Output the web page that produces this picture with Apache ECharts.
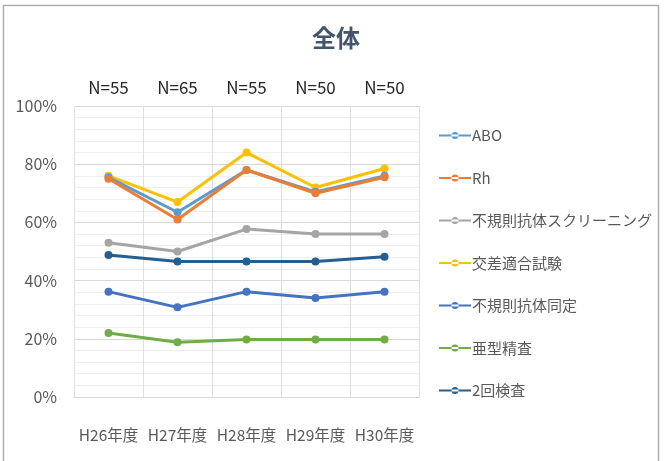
<!DOCTYPE html>
<html><head><meta charset="utf-8">
<script src="https://cdn.jsdelivr.net/npm/echarts@6/dist/echarts.min.js"></script>
<style>html,body{margin:0;padding:0;background:#fff}#c{width:665px;height:461px}</style>
</head><body><div id="c"></div>
<script>
const categories = ['H26年度','H27年度','H28年度','H29年度','H30年度'];
const nLabels = ['N=55','N=65','N=55','N=50','N=50'];
const seriesNames = ['ABO','Rh','不規則抗体スクリーニング','交差適合試験','不規則抗体同定','亜型精査','2回検査'];
const abo = [75.5, 63.5, 78, 70.5, 76];
const rh = [75, 61, 78, 70, 75.5];
const screening = [53, 50, 57.7, 56, 56];
const crossmatch = [76, 67, 84, 72, 78.5];
const identification = [36.2, 30.8, 36.2, 34, 36.2];
const subtype = [22, 18.8, 19.8, 19.8, 19.8];
const twice = [48.8, 46.6, 46.6, 46.6, 48.2];
const yTicks = [0, 20, 40, 60, 80, 100];
const colors = ['#5B9BD5','#ED7D31','#A5A5A5','#FFC000','#4472C4','#70AD47','#255E91'];
const allData = [abo, rh, screening, crossmatch, identification, subtype, twice];
const font = '"Noto Sans CJK JP", "Noto Sans", sans-serif';

const chart = echarts.init(document.getElementById('c'));
chart.setOption({
  animation: false,
  title: { text: '全体', left: 331, top: 21, textAlign: 'center',
    textStyle: { fontSize: 24, fontWeight: 'bold', color: '#44546A', fontFamily: font } },
  graphic: [{ type: 'rect', shape: { x: 3.5, y: 5.5, width: 655, height: 470 },
    style: { fill: 'none', stroke: '#b0b0b0', lineWidth: 1.5 }, silent: true }],
  legend: {
    orient: 'vertical', left: 434, top: 123, itemGap: 27.5,
    itemWidth: 32, itemHeight: 8,
    textStyle: { fontSize: 15, color: '#595959', fontFamily: font, padding: [0,0,0,-4] },
    data: seriesNames.map(n => ({ name: n,
      icon: 'path://M0,3 L32,3 L32,5 L0,5 Z M12.5,4 A3.5,3.5 0 1,0 19.5,4 A3.5,3.5 0 1,0 12.5,4 Z' }))
  },
  grid: { left: 74, right: 246, top: 106, bottom: 64 },
  xAxis: [
    { type: 'category', data: categories, boundaryGap: true,
      axisLine: { lineStyle: { color: '#d9d9d9' } }, axisTick: { show: false },
      splitLine: { show: true, interval: 0, lineStyle: { color: '#e0e0e0' } },
      axisLabel: { interval: 0, fontSize: 15.5, color: '#595959', fontFamily: font, margin: 30 } },
    { type: 'category', data: nLabels, position: 'top', boundaryGap: true,
      axisLine: { show: false }, axisTick: { show: false },
      axisLabel: { interval: 0, fontSize: 17, color: '#262626', fontFamily: font, margin: 10 } }
  ],
  yAxis: { type: 'value', min: 0, max: 100, interval: 20,
    axisLine: { show: false }, axisTick: { show: false },
    axisLabel: { fontSize: 16, color: '#595959', fontFamily: font, margin: 17,
      formatter: v => yTicks.includes(v) ? v + '%' : '' },
    splitLine: { lineStyle: { color: '#d9d9d9' } },
    minorTick: { show: false, splitNumber: 5 },
    minorSplitLine: { show: true, lineStyle: { color: '#efefef' } } },
  series: seriesNames.map((n, i) => ({
    name: n, type: 'line', data: allData[i], symbol: 'circle', symbolSize: 8,
    lineStyle: { width: 3, color: colors[i] }, itemStyle: { color: colors[i] },
    z: i === 3 ? 1 : 2 + i
  }))
});
</script></body></html>
